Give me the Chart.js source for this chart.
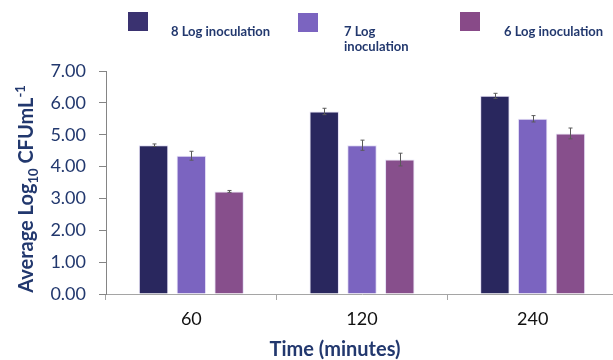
<!DOCTYPE html>
<html lang="en">
<head>
  <meta charset="UTF-8">
  <title>Average Log10 CFU/mL by inoculation level</title>
  <script src="https://cdn.jsdelivr.net/npm/chart.js"></script>
  <style>
    html, body {
      margin: 0;
      padding: 0;
      background: #fff;
      overflow: hidden;
    }
    canvas {
      display: block;
    }
  </style>
</head>
<body>
  <canvas id="cfuChart" width="618" height="360"></canvas>

  <script>
    // data
    const timeLabels = ['60', '120', '240'];
    const seriesNames = ['8 Log inoculation', '7 Log inoculation', '6 Log inoculation'];
    const legendLines = [['8 Log inoculation'], ['7 Log', 'inoculation'], ['6 Log inoculation']];
    const log8 = [4.67, 5.73, 6.22];
    const log7 = [4.34, 4.67, 5.50];
    const log6 = [3.22, 4.22, 5.04];
    const err8 = [0.04, 0.10, 0.08];
    const err7 = [0.14, 0.16, 0.10];
    const err6 = [0.03, 0.20, 0.17];

    const barColors = ['#29275e', '#7b64c0', '#874f8c'];
    const legendColors = ['#3a3270', '#7b64c0', '#884a88'];
    const navy = '#22386e';
    const font = 'Lato';

    // error bars on top of each bar
    const errorBars = {
      id: 'errorBars',
      afterDatasetsDraw(chart) {
        const ctx = chart.ctx;
        const y = chart.scales.y;
        ctx.save();
        ctx.strokeStyle = '#5a5a5a';
        ctx.lineWidth = 1;
        chart.data.datasets.forEach((ds, i) => {
          chart.getDatasetMeta(i).data.forEach((bar, j) => {
            const v = ds.data[j], e = ds.errors[j];
            const x = Math.round(bar.x) + 0.5;
            const top = y.getPixelForValue(v + e);
            const bot = y.getPixelForValue(v - e);
            ctx.beginPath();
            ctx.moveTo(x, top); ctx.lineTo(x, bot);
            ctx.moveTo(x - 2, top); ctx.lineTo(x + 2, top);
            ctx.moveTo(x - 2, bot); ctx.lineTo(x + 2, bot);
            ctx.stroke();
          });
        });
        ctx.restore();
      }
    };

    // legend row at the top, squares sit above the text like the original
    const topLegend = {
      id: 'topLegend',
      afterDraw(chart) {
        const ctx = chart.ctx;
        const boxes = [[128, 12], [298, 13], [460, 12]];
        const texts = [171, 344, 504];
        ctx.save();
        chart.data.datasets.forEach((ds, i) => {
          ctx.fillStyle = legendColors[i];
          ctx.fillRect(boxes[i][0], boxes[i][1], 20, 19);
          ctx.fillStyle = navy;
          ctx.font = 'bold 13px ' + font;
          ctx.textBaseline = 'alphabetic';
          legendLines[i].forEach((line, k) => {
            ctx.fillText(line, texts[i], 36 + k * 15);
          });
        });
        ctx.restore();
      }
    };

    // axis titles (y title needs a subscript and a superscript)
    const axisTitles = {
      id: 'axisTitles',
      afterDraw(chart) {
        const ctx = chart.ctx;
        ctx.save();
        ctx.fillStyle = navy;
        ctx.textBaseline = 'alphabetic';

        ctx.font = 'bold 20px ' + font;
        ctx.textAlign = 'center';
        ctx.fillText('Time (minutes)', 335, 356);

        const parts = [
          { t: 'Average Log', f: 'bold 20px ', dy: 0 },
          { t: '10', f: 'bold 13px ', dy: 5 },
          { t: ' CFUmL', f: 'bold 20px ', dy: 0 },
          { t: '-1', f: 'bold 13px ', dy: -8 }
        ];
        let total = 0;
        parts.forEach(p => { ctx.font = p.f + font; p.w = ctx.measureText(p.t).width; total += p.w; });
        ctx.translate(33, 189);
        ctx.rotate(-Math.PI / 2);
        ctx.textAlign = 'left';
        let x = -total / 2;
        parts.forEach(p => {
          ctx.font = p.f + font;
          ctx.fillText(p.t, x, p.dy);
          x += p.w;
        });
        ctx.restore();
      }
    };

    const datasets = [log8, log7, log6].map((vals, i) => ({
      label: seriesNames[i],
      data: vals,
      errors: [err8, err7, err6][i],
      backgroundColor: barColors[i],
      borderColor: 'rgba(225, 220, 245, 0.9)',
      borderWidth: 1,
      categoryPercentage: 0.664,
      barPercentage: 0.78
    }));

    const ctx = document.getElementById('cfuChart').getContext('2d');
    const cfuChart = new Chart(ctx, {
      type: 'bar',
      data: { labels: timeLabels, datasets: datasets },
      options: {
        responsive: false,
        animation: false,
        layout: { padding: { top: 71, left: 0, right: 0, bottom: 0 } },
        plugins: {
          legend: { display: false },
          tooltip: { enabled: false }
        },
        scales: {
          x: {
            grid: { drawOnChartArea: false, drawTicks: true, tickLength: 6, color: '#a5a5a5' },
            border: { color: '#a5a5a5' },
            ticks: { color: '#111', font: { family: font, size: 18 }, padding: 8 },
            afterFit: s => { s.height = 66; }
          },
          y: {
            min: 0,
            max: 7,
            grid: { drawOnChartArea: false, drawTicks: true, tickLength: 7, color: '#858585' },
            border: { color: '#858585' },
            ticks: {
              stepSize: 1,
              color: navy,
              padding: 13,
              font: { family: font, size: 18 },
              callback: v => v.toFixed(2)
            },
            afterFit: s => { s.width = 106; }
          }
        }
      },
      plugins: [errorBars, topLegend, axisTitles]
    });
  </script>
</body>
</html>
